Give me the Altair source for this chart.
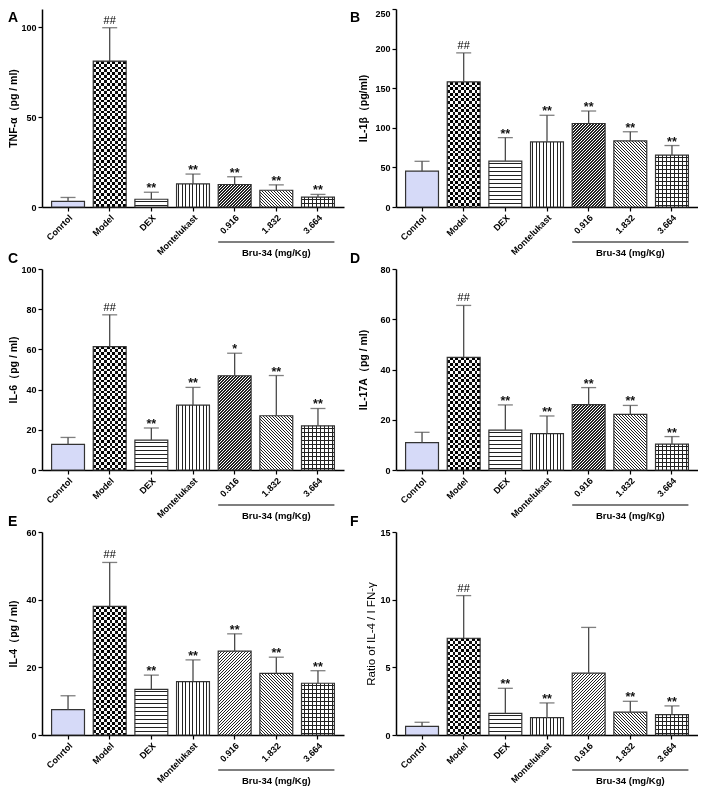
import altair as alt
import pandas as pd

# ---------------- data ----------------
groups = ["Conrtol", "Model", "DEX", "Montelukast", "0.916", "1.832", "3.664"]

tnf_mean = [3.1, 81.0, 4.3, 12.8, 12.5, 9.3, 5.5]
tnf_sd = [2.2, 18.6, 3.9, 5.5, 4.3, 3.0, 1.5]
tnf_sig = ["", "##", "**", "**", "**", "**", "**"]

il1b_mean = [45.2, 158.0, 58.0, 82.2, 105.4, 83.4, 65.6]
il1b_sd = [12.5, 36.6, 29.6, 33.6, 15.8, 11.6, 12.0]
il1b_sig = ["", "##", "**", "**", "**", "**", "**"]

il6_mean = [12.7, 61.4, 14.9, 32.3, 46.9, 27.0, 22.0]
il6_sd = [3.5, 15.8, 6.0, 8.8, 11.2, 20.0, 8.6]
il6_sig = ["", "##", "**", "**", "*", "**", "**"]

il17_mean = [10.9, 44.8, 15.9, 14.5, 26.0, 22.1, 10.3]
il17_sd = [4.1, 20.7, 10.0, 7.0, 6.8, 3.6, 3.0]
il17_sig = ["", "##", "**", "**", "**", "**", "**"]

il4_mean = [7.5, 38.0, 13.5, 15.8, 24.8, 18.2, 15.3]
il4_sd = [4.1, 13.0, 4.2, 6.4, 5.1, 4.8, 3.7]
il4_sig = ["", "##", "**", "**", "**", "**", "**"]

ratio_mean = [0.63, 7.15, 1.60, 1.28, 4.57, 1.69, 1.50]
ratio_sd = [0.31, 3.15, 1.85, 1.09, 3.38, 0.80, 0.65]
ratio_sig = ["", "##", "**", "**", "", "**", "**"]

letters = ["A", "B", "C", "D", "E", "F"]
y_titles = ["TNF-α（pg / ml)", "IL-1β（pg/ml)", "IL-6（pg / ml)",
            "IL-17A（pg / ml)", "IL-4（pg / ml)", "Ratio of IL-4 / I FN-γ"]
y_max = [110, 250, 100, 80, 60, 15]
y_ticks = [[0, 50, 100], [0, 50, 100, 150, 200, 250], [0, 20, 40, 60, 80, 100],
           [0, 20, 40, 60, 80], [0, 20, 40, 60], [0, 5, 10, 15]]
bracket_start, bracket_mid, bracket_end = "0.916", "1.832", "3.664"
bracket_label = "Bru-34 (mg/Kg)"

# ---------------- layout / style ----------------
W = 302
HEIGHTS = [198, 198, 201, 201, 203, 203]
PI, PO = 0.21, 0.23
STEP = W / (len(groups) - PI + 2 * PO)
BW = STEP * (1 - PI)
FONT = "Liberation Sans"
INK = "#222222"
WHITE = "#ffffff"
CLEAR = "rgba(255,255,255,0)"


def stops(L, period, lw, fg, bg, phase=0.0):
    out = [{"offset": 0, "color": bg}]
    k = phase
    while k < L:
        s = round(k / L, 6)
        e = round(min((k + lw) / L, 1.0), 6)
        out += [{"offset": s, "color": bg}, {"offset": s, "color": fg},
                {"offset": e, "color": fg}, {"offset": e, "color": bg}]
        k += period
    out.append({"offset": 1, "color": bg})
    return out


def lin(x1, y1, x2, y2, st):
    return {"gradient": "linear", "x1": round(x1, 7), "y1": round(y1, 7),
            "x2": round(x2, 7), "y2": round(y2, 7), "stops": st}


def pattern(grp, w, h):
    h = max(h, 0.5)
    if grp == "Conrtol":
        return [("#d6daf8", None)]
    if grp == "Model":
        c = 2.75
        return [(lin(0, 0, 1, 0, stops(w, 2 * c, c, "#111111", WHITE)), None),
                (lin(0, 0, 0, 1, stops(h, 2 * c, c, WHITE, CLEAR)), "difference")]
    if grp == "DEX":
        return [(lin(0, 0, 0, 1, stops(h, 4.0, 1.0, INK, WHITE, 2.0)), None)]
    if grp == "Montelukast":
        return [(lin(0, 0, 1, 0, stops(w, 3.5, 1.0, INK, WHITE, 1.6)), None)]
    c = (w + h) / (w * w + h * h)
    if grp == "0.916":
        return [(lin(0, 0, c * w, c * h, stops(w + h, 3.0, 1.3, INK, WHITE)), None)]
    if grp == "1.832":
        return [(lin(0, 1, c * w, 1 - c * h, stops(w + h, 3.0, 1.1, INK, WHITE)), None)]
    # 3.664 grid
    return [(lin(0, 0, 1, 0, stops(w, 4.0, 1.0, INK, WHITE, 2.0)), None),
            (lin(0, 0, 0, 1, stops(h, 4.0, 1.0, INK, CLEAR, 2.0)), None)]


def make_panel(i, mean, sd, sig):
    H = HEIGHTS[i]
    right = i % 2 == 1
    df = pd.DataFrame({"g": groups, "m": mean, "sd": sd, "sig": sig})
    df["top"] = df["m"] + df["sd"]
    xs = alt.Scale(domain=groups, paddingInner=PI, paddingOuter=PO)
    ys = alt.Scale(domain=[0, y_max[i]], nice=False, zero=True)
    xaxis = alt.Axis(labelAngle=-45, labelFont=FONT, labelFontSize=9, labelFontWeight="bold",
                     labelColor="black", domainColor="black", domainWidth=1.5,
                     tickColor="black", tickWidth=1.2, tickSize=4, labelPadding=2, title=None)
    is_ratio = i == 5
    yaxis_kw = dict(values=y_ticks[i], labelFont=FONT, labelFontSize=9, labelFontWeight="bold",
                    labelColor="black", domainColor="black", domainWidth=1.5,
                    tickColor="black", tickWidth=1.2, tickSize=4, labelPadding=2, grid=False,
                    titleFont=FONT, titleColor="black",
                    titleFontSize=11.5 if is_ratio else 10.5,
                    titleFontWeight="normal" if is_ratio else "bold",
                    titleX=(-20 if is_ratio else (-28 if right else -24)),
                    titleBaseline="bottom")
    if i == 1:
        yaxis_kw["labelBaseline"] = {"condition": {"test": "datum.value == 250", "value": "top"},
                                     "value": "middle"}
    yaxis = alt.Axis(**yaxis_kw)

    def X(f="g"):
        return alt.X(f"{f}:N", scale=xs, axis=xaxis, title=None)

    def Y(f):
        return alt.Y(f"{f}:Q", scale=ys, axis=yaxis, title=y_titles[i])

    base = alt.Chart(df)
    layers = []
    for g, v in zip(groups, mean):
        h = v / y_max[i] * H
        for fill, blend in pattern(g, BW, h):
            kw = dict(fill=fill)
            if blend:
                kw["blend"] = blend
            layers.append(base.transform_filter(alt.datum.g == g)
                          .mark_bar(**kw).encode(x=X(), y=Y("m")))
    layers.append(base.mark_bar(fill="transparent", stroke="#333333", strokeWidth=1.2)
                  .encode(x=X(), y=Y("m")))
    layers.append(base.mark_rule(color="#4a4a4a", strokeWidth=1.3)
                  .encode(x=X(), y=Y("m"), y2=alt.Y2("top")))
    layers.append(base.mark_tick(color="#4a4a4a", size=15, thickness=1.3)
                  .encode(x=X(), y=Y("top")))
    layers.append(base.transform_filter(alt.datum.sig == "##")
                  .mark_text(font=FONT, fontSize=11, color="#000000", dy=-4, baseline="alphabetic")
                  .encode(x=X(), y=Y("top"), text="sig:N"))
    layers.append(base.transform_filter((alt.datum.sig == "**") | (alt.datum.sig == "*"))
                  .mark_text(font=FONT, fontSize=12.5, fontWeight="bold", color="#111111", dy=0,
                             baseline="alphabetic")
                  .encode(x=X(), y=Y("top"), text="sig:N"))

    br = pd.DataFrame({"s": [bracket_start], "mid": [bracket_mid], "e": [bracket_end],
                       "label": [bracket_label]})
    bbase = alt.Chart(br)
    layers.append(bbase.mark_rule(color="black", strokeWidth=1.2)
                  .encode(x=alt.X("s:N", scale=xs, axis=xaxis, title=None, bandPosition=0),
                          x2=alt.X2("e:N", bandPosition=1),
                          y=alt.value(H + 35)))
    layers.append(bbase.mark_text(font=FONT, fontSize=9.5, fontWeight="bold", color="black",
                                  baseline="middle")
                  .encode(x=X("mid"), y=alt.value(H + 46), text="label:N"))

    letter_y = 2 if i < 2 else -17
    lt = pd.DataFrame({"t": [letters[i]]})
    layers.append(alt.Chart(lt).mark_text(font=FONT, fontSize=14, fontWeight="bold", color="black",
                                          align="left", baseline="top")
                  .encode(x=alt.value(-46 if right else -34), y=alt.value(letter_y), text="t:N"))

    return alt.layer(*layers).properties(width=W, height=H)


panels = [
    make_panel(0, tnf_mean, tnf_sd, tnf_sig),
    make_panel(1, il1b_mean, il1b_sd, il1b_sig),
    make_panel(2, il6_mean, il6_sd, il6_sig),
    make_panel(3, il17_mean, il17_sd, il17_sig),
    make_panel(4, il4_mean, il4_sd, il4_sig),
    make_panel(5, ratio_mean, ratio_sd, ratio_sig),
]

chart = alt.concat(*panels, columns=2, spacing=alt.RowColnumber(row=62, column=52),
                   bounds="flush").properties(padding=0).configure_view(stroke=None)

chart.save("out.html", embed_options={"renderer": "svg", "actions": False})
